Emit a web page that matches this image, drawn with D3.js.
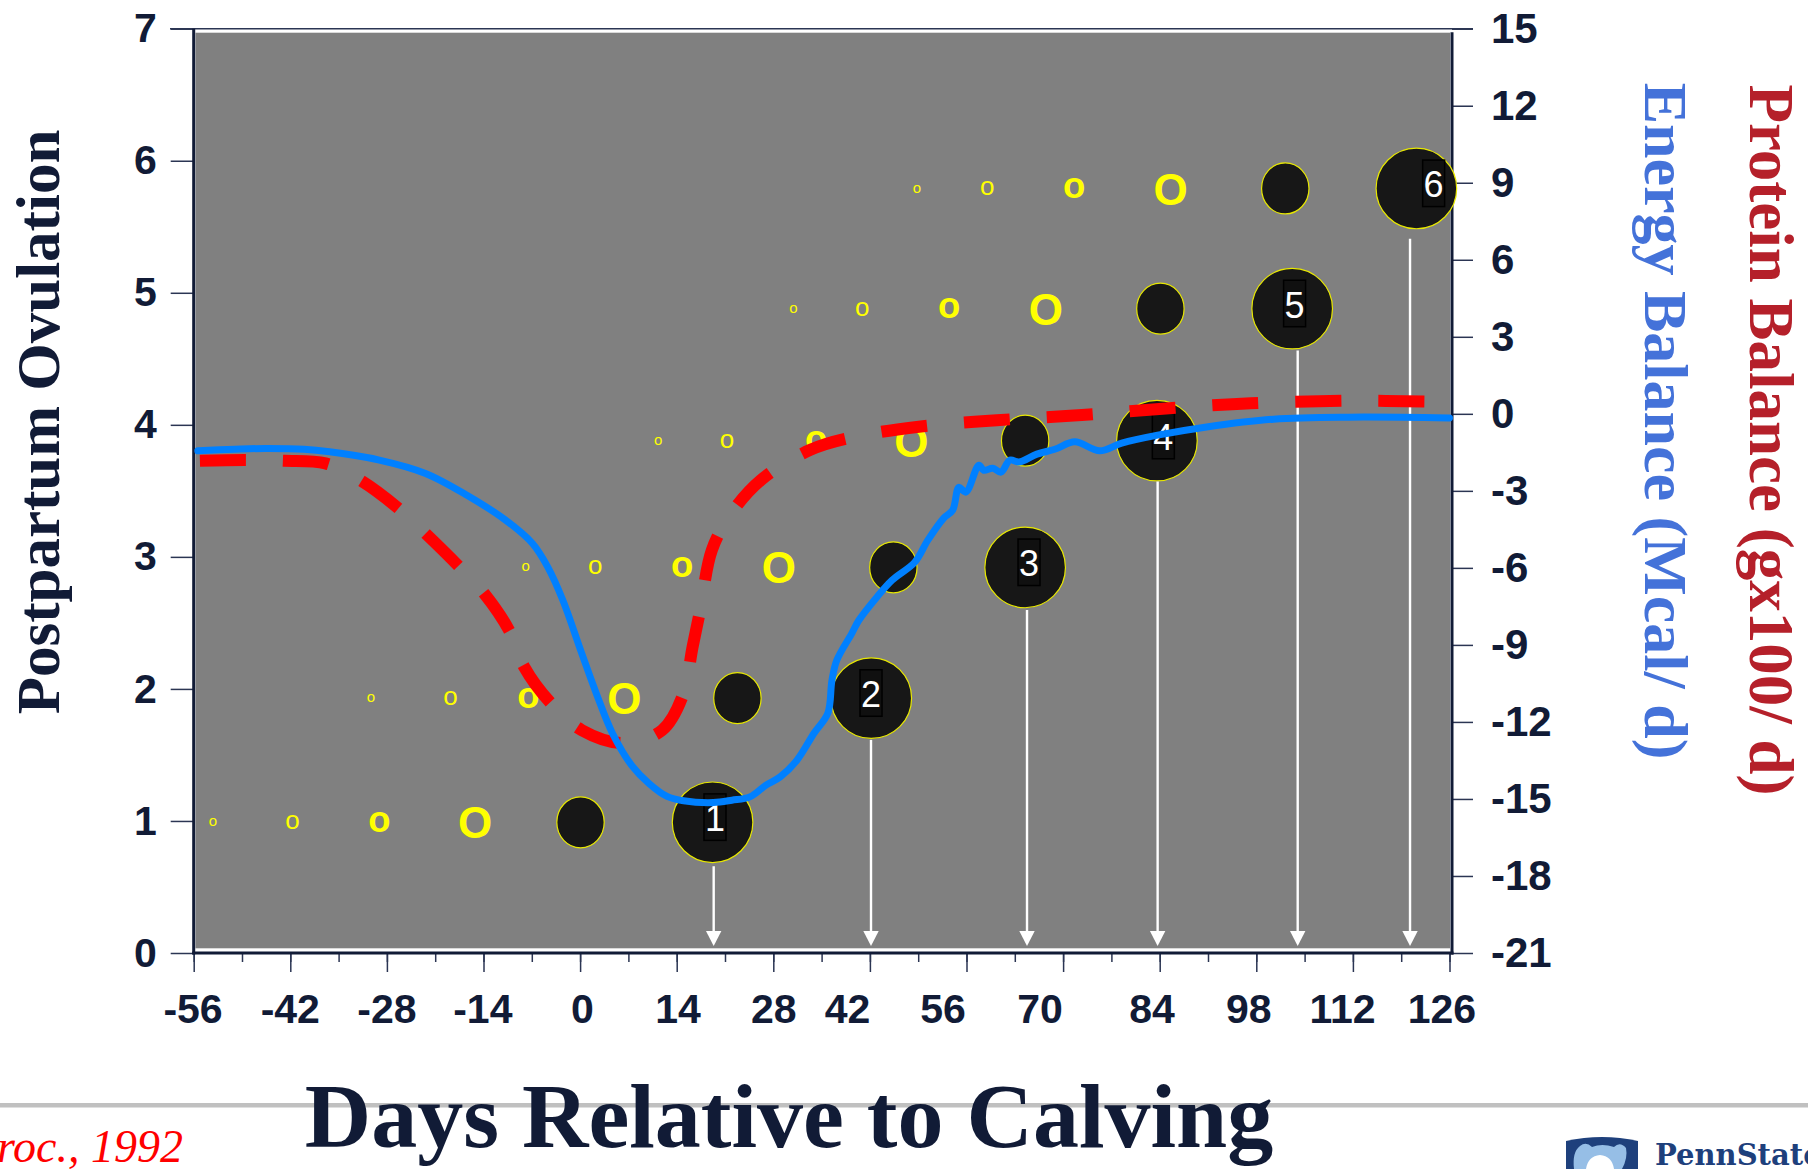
<!DOCTYPE html>
<html><head><meta charset="utf-8">
<script src="https://cdn.jsdelivr.net/npm/d3@7"></script>
<style>html,body{margin:0;padding:0;background:#fff;overflow:hidden;} svg{display:block;}</style>
</head><body>
<svg id="chart" width="1808" height="1169"></svg>
<script>
// ---------------- data ----------------
const xTicks = [-56,-42,-28,-14,0,14,28,42,56,70,84,98,112,126];
const xMinorTicks = d3.range(-56, 127, 7);
const xTickLabelDays = [-56.1,-42,-28,-14.1,0.35,14.2,28.06,38.75,52.6,66.65,82.9,96.9,110.5,124.9];
const leftTicks = [0,1,2,3,4,5,6,7];
const rightTicks = [-21,-18,-15,-12,-9,-6,-3,0,3,6,9,12,15];

const energyDays = [-55.4,-50,-45.7,-40,-36.3,-29.1,-22.4,-16.4,-10.8,-6.9,-4.7,-2.5,0.25,2.5,4.7,7.5,10.0,12.6,15.0,19.3,22.0,24.6,26.9,29.0,31.4,33.9,35.9,36.5,37.2,39.4,40.4,43.0,45.2,48.5,50.4,52.7,54.0,54.9,55.9,57.8,58.5,59.8,61.0,62.3,63.6,66.2,68.8,71.7,75.3,78.5,83.7,90.8,100.5,111.3,126];
const energyValues = [-1.44,-1.38,-1.35,-1.38,-1.48,-1.80,-2.32,-3.17,-4.14,-5.05,-5.96,-7.26,-9.34,-11.0,-12.45,-13.7,-14.4,-14.9,-15.07,-15.14,-15.05,-14.92,-14.47,-14.14,-13.5,-12.44,-11.66,-10.38,-9.6,-8.54,-8.04,-7.14,-6.48,-5.78,-4.92,-4.06,-3.75,-2.86,-3.05,-2.0,-2.2,-2.12,-2.27,-1.8,-1.88,-1.57,-1.38,-1.09,-1.44,-1.14,-0.83,-0.51,-0.21,-0.13,-0.16];

const proteinDays = [-55.1,-48.5,-42.9,-36.9,-31.9,-26.3,-22.4,-17.5,-13.9,-10.3,-8.1,-4.2,0.25,6.3,11.9,14.9,16.3,17.4,19.1,21.9,26.2,33.3,39.7,48.8,60.4,72.7,84.9,97.2,111.3,124.8];
const proteinValues = [-1.83,-1.80,-1.83,-1.93,-2.58,-3.69,-4.66,-5.96,-7.0,-8.43,-9.86,-11.28,-12.32,-12.82,-12.32,-10.96,-9.08,-7.65,-5.3,-3.88,-2.58,-1.41,-0.9,-0.51,-0.25,-0.05,0.21,0.41,0.51,0.47];

const rowLevels = [0.99,1.93,2.92,3.88,4.88,5.79];
const tinyFollicleDays   = [-53.2,-30.3,-7.9,11.3,30.9,48.8];
const smallFollicleDays  = [-41.7,-18.8,2.2,21.3,40.9,59.0];
const mediumFollicleDays = [-29.1,-7.5,14.8,34.2,53.5,71.6];
const largeFollicleDays  = [-15.2,6.4,28.8,48.0,67.5,85.6];
const dominantDays   = [0.06,22.8,45.4,64.5,84.1,102.2];
const ovulationDays  = [19.2,42.2,64.5,83.6,103.2,121.2];
const ovulationLabels = ["1","2","3","4","5","6"];
const labelDays      = [19.55,42.16,65.06,84.53,103.55,123.7];
const arrowDays      = [19.36,42.16,64.77,83.7,104.0,120.28];
const arrowStart     = [0.657,1.614,2.598,3.570,4.563,5.409];
const arrowEnd = 0.053;

// ---------------- chart ----------------
const svg = d3.select("#chart");
const navy = "#111b36";
const x  = d3.scaleLinear().domain([-56,126]).range([193.7,1449.5]);
const yL = d3.scaleLinear().domain([0,7]).range([953,28.7]);
const yR = d3.scaleLinear().domain([-21,15]).range([953,28.7]);
const plain = d => String(d);

// plot background
svg.append("rect")
  .attr("x", x(-56)+1.8).attr("y", yL(7)+4)
  .attr("width", 1450 - (x(-56)+1.8)).attr("height", (yL(0)-4.7) - (yL(7)+4))
  .attr("fill", "#808080");

// axes (ticks via d3 axes)
function styleAxis(g, size) {
  g.select(".domain").remove();
  g.selectAll(".tick line").attr("stroke", "#2b3553").attr("stroke-width", 1.5);
  g.selectAll(".tick text").attr("fill", navy)
    .style("font-family", "'Liberation Sans', Arial, sans-serif")
    .style("font-weight", "bold").style("font-size", size + "px");
}
const gLeft = svg.append("g").attr("transform", `translate(${x(-56)},0)`)
  .call(d3.axisLeft(yL).tickValues(leftTicks).tickSize(23).tickPadding(14).tickFormat(plain));
styleAxis(gLeft, 41);

const gRight = svg.append("g").attr("transform", `translate(1452,0)`)
  .call(d3.axisRight(yR).tickValues(rightTicks).tickSize(21).tickPadding(18).tickFormat(plain));
styleAxis(gRight, 42);

const gBotMinor = svg.append("g").attr("transform", `translate(0,${yL(0)})`)
  .call(d3.axisBottom(x).tickValues(xMinorTicks).tickSize(9).tickFormat(""));
styleAxis(gBotMinor, 10);
const gBot = svg.append("g").attr("transform", `translate(0,${yL(0)})`)
  .call(d3.axisBottom(x).tickValues(xTicks).tickSize(19).tickFormat(""));
styleAxis(gBot, 10);

// x tick labels
svg.append("g").selectAll("text").data(xTicks).join("text")
  .attr("x", (d,i) => x(xTickLabelDays[i]))
  .attr("y", 1023)
  .attr("text-anchor", "middle")
  .attr("fill", navy)
  .style("font-family", "'Liberation Sans', Arial, sans-serif")
  .style("font-weight", "bold").style("font-size", "41px")
  .text(plain);

// frame lines
svg.append("line").attr("x1", 170).attr("x2", 1473).attr("y1", yL(7)).attr("y2", yL(7))
  .attr("stroke", "#2b3553").attr("stroke-width", 1.5);
svg.append("line").attr("x1", x(-56)).attr("x2", x(-56)).attr("y1", yL(7)).attr("y2", yL(0)+1.5)
  .attr("stroke", navy).attr("stroke-width", 3);
svg.append("line").attr("x1", 1452).attr("x2", 1452).attr("y1", yL(7)+3.5).attr("y2", yL(0)+1.5)
  .attr("stroke", navy).attr("stroke-width", 3);
svg.append("line").attr("x1", x(-56)-1.5).attr("x2", 1453.5).attr("y1", yL(0)).attr("y2", yL(0))
  .attr("stroke", navy).attr("stroke-width", 3);

// ovulation markers
const serifBold = "'Liberation Serif', 'Times New Roman', serif";
const sans = "'Liberation Sans', Arial, sans-serif";
const gm = svg.append("g");
const follicleSets = [
  {days: tinyFollicleDays,   txt: "o", fs: 15,   w: "normal"},
  {days: smallFollicleDays,  txt: "o", fs: 26,   w: "normal"},
  {days: mediumFollicleDays, txt: "o", fs: 36.5, w: "bold"},
  {days: largeFollicleDays,  txt: "O", fs: 44,   w: "bold"}
];
follicleSets.forEach(s => {
  gm.append("g").selectAll("text").data(rowLevels).join("text")
    .attr("x", (d,i) => x(s.days[i]))
    .attr("y", d => yL(d) + (s.txt === "o" ? 0.27 : 0.365) * s.fs)
    .attr("text-anchor", "middle")
    .attr("fill", "#ffff00")
    .style("font-family", sans).style("font-weight", s.w)
    .style("font-size", s.fs + "px")
    .text(s.txt);
});
gm.append("g").selectAll("ellipse").data(rowLevels).join("ellipse")
  .attr("cx", (d,i) => x(dominantDays[i])).attr("cy", d => yL(d))
  .attr("rx", 23.7).attr("ry", 25.5)
  .attr("fill", "#171717").attr("stroke", "#e8e800").attr("stroke-width", 1.2);

// arrows
const ga = svg.append("g");
rowLevels.forEach((d,i) => {
  const ax = x(arrowDays[i]);
  const tip = yL(arrowEnd);
  ga.append("line").attr("x1", ax).attr("x2", ax)
    .attr("y1", yL(arrowStart[i])).attr("y2", tip - 12)
    .attr("stroke", "#ffffff").attr("stroke-width", 2.4);
  ga.append("path")
    .attr("d", `M${ax-7.7},${tip-15}L${ax+7.7},${tip-15}L${ax},${tip}Z`)
    .attr("fill", "#ffffff");
});

gm.append("g").selectAll("circle").data(rowLevels).join("circle")
  .attr("cx", (d,i) => x(ovulationDays[i])).attr("cy", d => yL(d))
  .attr("r", 40.3)
  .attr("fill", "#171717").attr("stroke", "#e8e800").attr("stroke-width", 1.2);
gm.append("g").selectAll("rect").data(rowLevels).join("rect")
  .attr("x", (d,i) => x(labelDays[i]) - 11).attr("y", d => yL(d) - 28.4)
  .attr("width", 22).attr("height", 46.5)
  .attr("fill", "#101010").attr("stroke", "#000").attr("stroke-width", 1.5);
gm.append("g").selectAll("text").data(rowLevels).join("text")
  .attr("x", (d,i) => x(labelDays[i])).attr("y", d => yL(d) + 9)
  .attr("text-anchor", "middle").attr("fill", "#ffffff")
  .style("font-family", sans).style("font-size", "36px")
  .text((d,i) => ovulationLabels[i]);

// lines
const proteinLine = d3.line().x((d,i) => x(proteinDays[i])).y(d => yR(d)).curve(d3.curveCatmullRom.alpha(0.5));
svg.append("path").attr("d", proteinLine(proteinValues))
  .attr("fill", "none").attr("stroke", "#ff0000").attr("stroke-width", 12)
  .attr("stroke-dasharray", "46 37").attr("stroke-linecap", "butt");
const energyLine = d3.line().x((d,i) => x(energyDays[i])).y(d => yR(d)).curve(d3.curveCatmullRom.alpha(0.5));
svg.append("path").attr("d", energyLine(energyValues))
  .attr("fill", "none").attr("stroke", "#0080ff").attr("stroke-width", 7)
  .attr("stroke-linejoin", "round").attr("stroke-linecap", "round");

// axis titles
svg.append("text").attr("transform", "translate(59,422) rotate(-90)")
  .attr("text-anchor", "middle").attr("fill", navy)
  .style("font-family", serifBold).style("font-weight", "bold").style("font-size", "61px")
  .text("Postpartum Ovulation");
svg.append("text").attr("transform", "translate(1645,421) rotate(90)")
  .attr("text-anchor", "middle").attr("fill", "#4472d9")
  .style("font-family", serifBold).style("font-weight", "bold").style("font-size", "62px")
  .text("Energy Balance (Mcal/ d)");
svg.append("text").attr("transform", "translate(1750,440) rotate(90)")
  .attr("text-anchor", "middle").attr("fill", "#b5202a")
  .style("font-family", serifBold).style("font-weight", "bold").style("font-size", "63px")
  .text("Protein Balance (gx100/ d)");

// footer
svg.append("rect").attr("x", 0).attr("y", 1103).attr("width", 1808).attr("height", 4.5).attr("fill", "#c0c0c0");
svg.append("text").attr("x", 789).attr("y", 1147).attr("text-anchor", "middle").attr("fill", navy)
  .style("font-family", serifBold).style("font-weight", "bold").style("font-size", "92px")
  .text("Days Relative to Calving");
svg.append("text").attr("x", 183).attr("y", 1161.7).attr("text-anchor", "end").attr("fill", "#ff0000")
  .style("font-family", serifBold).style("font-style", "italic").style("font-size", "46px")
  .text("Proc., 1992");

// Penn State mark
const logo = svg.append("g");
logo.append("path").attr("d", "M1566,1141 Q1602,1133 1638,1141 L1638,1169 L1566,1169 Z").attr("fill", "#1e407c");
logo.append("path").attr("d", "M1574,1169 Q1572,1152 1580,1146 Q1586,1141 1592,1147 Q1602,1143 1614,1147 Q1620,1141 1626,1148 Q1628,1158 1622,1169 Z").attr("fill", "#96bee6");
logo.append("path").attr("d", "M1586,1169 Q1588,1156 1600,1155 Q1612,1156 1614,1169 Z").attr("fill", "#ffffff");
logo.append("text").attr("x", 1655).attr("y", 1165).attr("fill", "#1e407c")
  .style("font-family", "'DejaVu Serif', serif").style("font-weight", "bold").style("font-size", "29px")
  .text("PennState");
</script>
</body></html>
